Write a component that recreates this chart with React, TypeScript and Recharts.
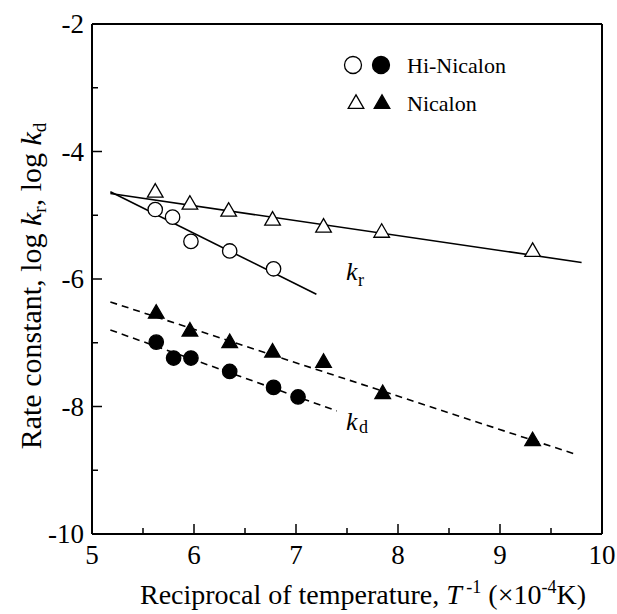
import { ComposedChart, Line, Scatter, XAxis, YAxis } from 'recharts';

const FONT = '"Liberation Serif", "Times New Roman", serif';

// measured points (x = 1/T ×10^-4, y = log k)
const hiNicalonKr = [
  { x: 5.62, y: -4.91 },
  { x: 5.79, y: -5.03 },
  { x: 5.97, y: -5.41 },
  { x: 6.35, y: -5.56 },
  { x: 6.78, y: -5.84 },
];
const hiNicalonKd = [
  { x: 5.63, y: -6.99 },
  { x: 5.8, y: -7.24 },
  { x: 5.97, y: -7.24 },
  { x: 6.35, y: -7.45 },
  { x: 6.78, y: -7.7 },
  { x: 7.02, y: -7.85 },
];
const nicalonKr = [
  { x: 5.62, y: -4.63 },
  { x: 5.96, y: -4.82 },
  { x: 6.34, y: -4.93 },
  { x: 6.77, y: -5.07 },
  { x: 7.27, y: -5.18 },
  { x: 7.84, y: -5.26 },
  { x: 9.32, y: -5.56 },
];
const nicalonKd = [
  { x: 5.63, y: -6.53 },
  { x: 5.96, y: -6.81 },
  { x: 6.35, y: -6.99 },
  { x: 6.77, y: -7.14 },
  { x: 7.27, y: -7.3 },
  { x: 7.85, y: -7.79 },
  { x: 9.32, y: -8.53 },
];

// fitted line end points
const fitHiKr = [{ x: 5.18, y: -4.63 }, { x: 7.2, y: -6.24 }];
const fitNiKr = [{ x: 5.18, y: -4.66 }, { x: 9.8, y: -5.74 }];
const fitHiKd = [{ x: 5.18, y: -6.8 }, { x: 7.4, y: -8.07 }];
const fitNiKd = [{ x: 5.18, y: -6.36 }, { x: 9.76, y: -8.76 }];

const xTicks = [5, 5.5, 6, 6.5, 7, 7.5, 8, 8.5, 9, 9.5, 10];
const yTicks = [-10, -9, -8, -7, -6, -5, -4, -3, -2];

const W = 617;
const H = 614;
const PL = 92;
const PR = 602;
const PT = 24;
const PB = 534;
const MAJ = 10;
const MIN = 6;

const Circle = ({ cx, cy, filled }: any) => (
  <circle cx={cx} cy={cy} r={7.2} fill={filled ? '#000' : '#fff'} stroke="#000" strokeWidth={1.3} />
);

const Tri = ({ cx, cy, filled }: any) => {
  const w = 7.8;
  const h = 13.5;
  const pts = `${cx},${cy - h * 0.6} ${cx - w},${cy + h * 0.4} ${cx + w},${cy + h * 0.4}`;
  return <polygon points={pts} fill={filled ? '#000' : '#fff'} stroke="#000" strokeWidth={1.3} />;
};

const isMajorX = (v: number) => Number.isInteger(v);
const isMajorY = (v: number) => v % 2 === 0;

const BottomTick = ({ x, payload }: any) => {
  const major = isMajorX(payload.value);
  return (
    <g>
      <line x1={x} x2={x} y1={PB} y2={PB - (major ? MAJ : MIN)} stroke="#000" strokeWidth={1.5} />
      {major && (
        <text x={x} y={PB + 30} textAnchor="middle" fontSize={27} fontFamily={FONT} fill="#000">
          {payload.value}
        </text>
      )}
    </g>
  );
};

const TopTick = ({ x, payload }: any) => (
  <line x1={x} x2={x} y1={PT} y2={PT + (isMajorX(payload.value) ? MAJ : MIN)} stroke="#000" strokeWidth={1.5} />
);

const LeftTick = ({ y, payload }: any) => {
  const major = isMajorY(payload.value);
  return (
    <g>
      <line x1={PL} x2={PL + (major ? MAJ : MIN)} y1={y} y2={y} stroke="#000" strokeWidth={1.5} />
      {major && (
        <text x={PL - 8} y={y + 9} textAnchor="end" fontSize={27} fontFamily={FONT} fill="#000">
          {payload.value}
        </text>
      )}
    </g>
  );
};

const RightTick = ({ y, payload }: any) => (
  <line x1={PR} x2={PR - (isMajorY(payload.value) ? MAJ : MIN)} y1={y} y2={y} stroke="#000" strokeWidth={1.5} />
);

export default function App() {
  return (
    <div style={{ position: 'absolute', left: 0, top: 0, width: W, height: H, background: '#fff' }}>
      <ComposedChart
        width={W}
        height={H}
        margin={{ left: PL - 1, right: W - PR - 1, top: PT - 1, bottom: H - PB - 1 }}
      >
        <XAxis
          xAxisId="b"
          type="number"
          dataKey="x"
          domain={[5, 10]}
          ticks={xTicks}
          height={1}
          tickLine={false}
          tick={<BottomTick />}
          axisLine={{ stroke: '#000', strokeWidth: 2 }}
          allowDataOverflow
        />
        <XAxis
          xAxisId="t"
          orientation="top"
          type="number"
          dataKey="x"
          domain={[5, 10]}
          ticks={xTicks}
          height={1}
          tickLine={false}
          tick={<TopTick />}
          axisLine={{ stroke: '#000', strokeWidth: 2 }}
        />
        <YAxis
          yAxisId="l"
          type="number"
          dataKey="y"
          domain={[-10, -2]}
          ticks={yTicks}
          width={1}
          tickLine={false}
          tick={<LeftTick />}
          axisLine={{ stroke: '#000', strokeWidth: 2 }}
          allowDataOverflow
        />
        <YAxis
          yAxisId="r"
          orientation="right"
          type="number"
          dataKey="y"
          domain={[-10, -2]}
          ticks={yTicks}
          width={1}
          tickLine={false}
          tick={<RightTick />}
          axisLine={{ stroke: '#000', strokeWidth: 2 }}
        />

        <Line xAxisId="b" yAxisId="l" data={fitHiKr} dataKey="y" stroke="#000" strokeWidth={1.6} dot={false} isAnimationActive={false} />
        <Line xAxisId="b" yAxisId="l" data={fitNiKr} dataKey="y" stroke="#000" strokeWidth={1.6} dot={false} isAnimationActive={false} />
        <Line xAxisId="b" yAxisId="l" data={fitHiKd} dataKey="y" stroke="#000" strokeWidth={1.6} strokeDasharray="7 5" dot={false} isAnimationActive={false} />
        <Line xAxisId="b" yAxisId="l" data={fitNiKd} dataKey="y" stroke="#000" strokeWidth={1.6} strokeDasharray="7 5" dot={false} isAnimationActive={false} />

        <Scatter xAxisId="b" yAxisId="l" data={nicalonKr} shape={(p: any) => <Tri {...p} />} isAnimationActive={false} />
        <Scatter xAxisId="b" yAxisId="l" data={hiNicalonKr} shape={(p: any) => <Circle {...p} />} isAnimationActive={false} />
        <Scatter xAxisId="b" yAxisId="l" data={nicalonKd} shape={(p: any) => <Tri {...p} filled />} isAnimationActive={false} />
        <Scatter xAxisId="b" yAxisId="l" data={hiNicalonKd} shape={(p: any) => <Circle {...p} filled />} isAnimationActive={false} />
      </ComposedChart>

      <svg width={W} height={H} style={{ position: 'absolute', left: 0, top: 0, pointerEvents: 'none' }}>
        {/* legend */}
        <circle cx={353} cy={65} r={8.5} fill="#fff" stroke="#000" strokeWidth={1.3} />
        <circle cx={381} cy={65} r={8.5} fill="#000" stroke="#000" strokeWidth={1.3} />
        <text x={407} y={73} fontSize={22} fontFamily={FONT}>Hi-Nicalon</text>
        <Tri cx={356} cy={103} />
        <Tri cx={382} cy={103} filled />
        <text x={407} y={111} fontSize={22} fontFamily={FONT}>Nicalon</text>

        {/* curve labels */}
        <text x={346} y={280} fontSize={26} fontFamily={FONT} fontStyle="italic">k</text>
        <text x={358} y={286} fontSize={18} fontFamily={FONT}>r</text>
        <text x={346} y={430} fontSize={26} fontFamily={FONT} fontStyle="italic">k</text>
        <text x={359} y={433} fontSize={18} fontFamily={FONT}>d</text>

        {/* axis titles */}
        <text x={363} y={604} textAnchor="middle" fontSize={28} fontFamily={FONT}>
          Reciprocal of temperature,{' '}
          <tspan fontStyle="italic">T</tspan>
          <tspan fontSize={18} dy={-11}> -1</tspan>
          <tspan dy={11}> (×10</tspan>
          <tspan fontSize={18} dy={-11}>-4</tspan>
          <tspan dy={11}>K)</tspan>
        </text>
        <text
          x={0}
          y={0}
          transform="translate(41, 286) rotate(-90)"
          textAnchor="middle"
          fontSize={30}
          fontFamily={FONT}
        >
          Rate constant, log <tspan fontStyle="italic">k</tspan>
          <tspan fontSize={19} dy={5}>r</tspan>
          <tspan dy={-5}>, log </tspan>
          <tspan fontStyle="italic">k</tspan>
          <tspan fontSize={19} dy={5}>d</tspan>
        </text>
      </svg>
    </div>
  );
}
